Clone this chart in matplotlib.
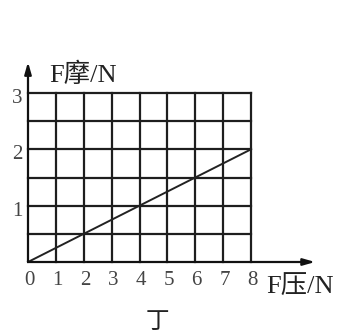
import matplotlib
matplotlib.use("Agg")
import matplotlib.pyplot as plt
import numpy as np

plt.rcParams['font.family'] = ['Liberation Serif', 'Noto Sans CJK SC']

x_pressure = [0, 2, 4, 6, 8]
y_friction = [0, 0.5, 1, 1.5, 2]
x_ticks = [0, 1, 2, 3, 4, 5, 6, 7, 8]
y_ticks = [1, 2, 3]
x_label = "F压/N"
y_label = "F摩/N"
caption = "丁"

W, H = 346, 335
fig = plt.figure(figsize=(W/100, H/100), dpi=100)
x0, x1 = 28, 251
y0, y1 = 262, 93
ax = fig.add_axes([x0/W, (H-y0)/H, (x1-x0)/W, (y0-y1)/H])
ax.set_xlim(0, 8)
ax.set_ylim(0, 3)
for s in ax.spines.values():
    s.set_visible(False)
ax.set_xticks([])
ax.set_yticks([])

lw = 1.6
gc = '#1e1e1e'
for xv in np.arange(1, 9, 1):
    ax.plot([xv, xv], [0, 3], color=gc, lw=lw, clip_on=False, solid_capstyle='projecting')
for yv in np.arange(0.5, 3.01, 0.5):
    ax.plot([0, 8], [yv, yv], color=gc, lw=lw, clip_on=False, solid_capstyle='projecting')

# axes with arrows
ax.annotate('', xy=(10.3, 0), xytext=(0, 0), xycoords='data',
            arrowprops=dict(arrowstyle='-|>,head_length=0.7,head_width=0.2', color='#111111', lw=1.6,
                            shrinkA=0, shrinkB=0),
            annotation_clip=False)
ax.annotate('', xy=(0, 3.55), xytext=(0, 0), xycoords='data',
            arrowprops=dict(arrowstyle='-|>,head_length=0.7,head_width=0.2', color='#111111', lw=1.6,
                            shrinkA=0, shrinkB=0),
            annotation_clip=False)

ax.plot(x_pressure, y_friction, color='#222222', lw=1.4, clip_on=False)

for t in x_ticks:
    ax.text(t + 0.05, -0.32, str(t), ha='center', va='center', fontsize=15, color='#444444')
for t in y_ticks:
    ax.text(-0.2, t - 0.1, str(t), ha='right', va='center', fontsize=15, color='#444444')

ax.text(0.75, 3.32, y_label, ha='left', va='center', fontsize=19, color='#222222')
ax.text(8.55, -0.45, x_label, ha='left', va='center', fontsize=19, color='#222222')
fig.text(157/W, 1 - 322/H, caption, ha='center', va='center', fontsize=17, color='#222222',
         family=['Noto Sans CJK SC'])

fig.savefig("out.png", dpi=100)
